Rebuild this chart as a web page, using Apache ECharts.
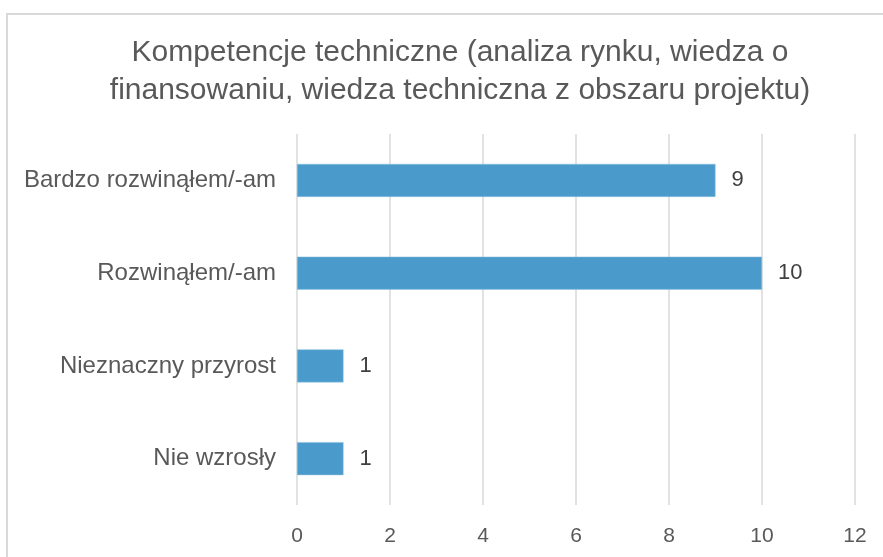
<!DOCTYPE html>
<html lang="pl">
<head>
<meta charset="utf-8">
<title>Kompetencje techniczne</title>
<script src="https://cdn.jsdelivr.net/npm/echarts@6/dist/echarts.min.js"></script>
<style>
  html, body { margin: 0; padding: 0; background: #fff; overflow: hidden; }
  #frame { position: absolute; left: 6px; top: 13px; width: 900px; height: 600px; border: 2px solid #d9d9d9; box-sizing: border-box; }
  #chart { position: absolute; left: 0; top: 0; width: 883px; height: 557px; }
</style>
</head>
<body>
<div id="frame"></div>
<div id="chart"></div>
<script>
  // kategorie od dołu do góry (oś kategorii w ECharts rośnie w górę)
  var categories = ['Nie wzrosły', 'Nieznaczny przyrost', 'Rozwinąłem/-am', 'Bardzo rozwinąłem/-am'];
  var values = [1, 1, 10, 9];
  var titleText = 'Kompetencje techniczne (analiza rynku, wiedza o\nfinansowaniu, wiedza techniczna z obszaru projektu)';

  var myChart = echarts.init(document.getElementById('chart'));
  var option = {
    backgroundColor: 'transparent',
    animation: false,
    title: {
      text: titleText,
      left: 455,
      top: 29,
      textAlign: 'center',
      textStyle: {
        color: '#595959',
        fontFamily: 'Liberation Sans, Arial, sans-serif',
        fontSize: 30,
        fontWeight: 'normal',
        lineHeight: 38
      }
    },
    grid: {
      left: 297,
      right: 28,
      top: 134,
      bottom: 52,
      containLabel: false
    },
    xAxis: {
      type: 'value',
      min: 0,
      max: 12,
      interval: 2,
      axisLine: { show: false },
      axisTick: { show: false },
      axisLabel: {
        color: '#595959',
        fontFamily: 'Liberation Sans, Arial, sans-serif',
        fontSize: 21,
        margin: 21
      },
      splitLine: {
        show: true,
        lineStyle: { color: '#d9d9d9', width: 1.5 }
      }
    },
    yAxis: {
      type: 'category',
      data: categories,
      axisLine: { show: false },
      axisTick: { show: false },
      axisLabel: {
        color: '#595959',
        fontFamily: 'Liberation Sans, Arial, sans-serif',
        fontSize: 24,
        margin: 21
      }
    },
    series: [{
      type: 'bar',
      data: values,
      barWidth: 33,
      itemStyle: {
        color: '#4a9bcb',
        borderColor: '#8cc2e3',
        borderWidth: 0.5
      },
      label: {
        show: true,
        position: 'right',
        distance: 16,
        color: '#404040',
        fontFamily: 'Liberation Sans, Arial, sans-serif',
        fontSize: 22
      }
    }]
  };
  myChart.setOption(option);
</script>
</body>
</html>
